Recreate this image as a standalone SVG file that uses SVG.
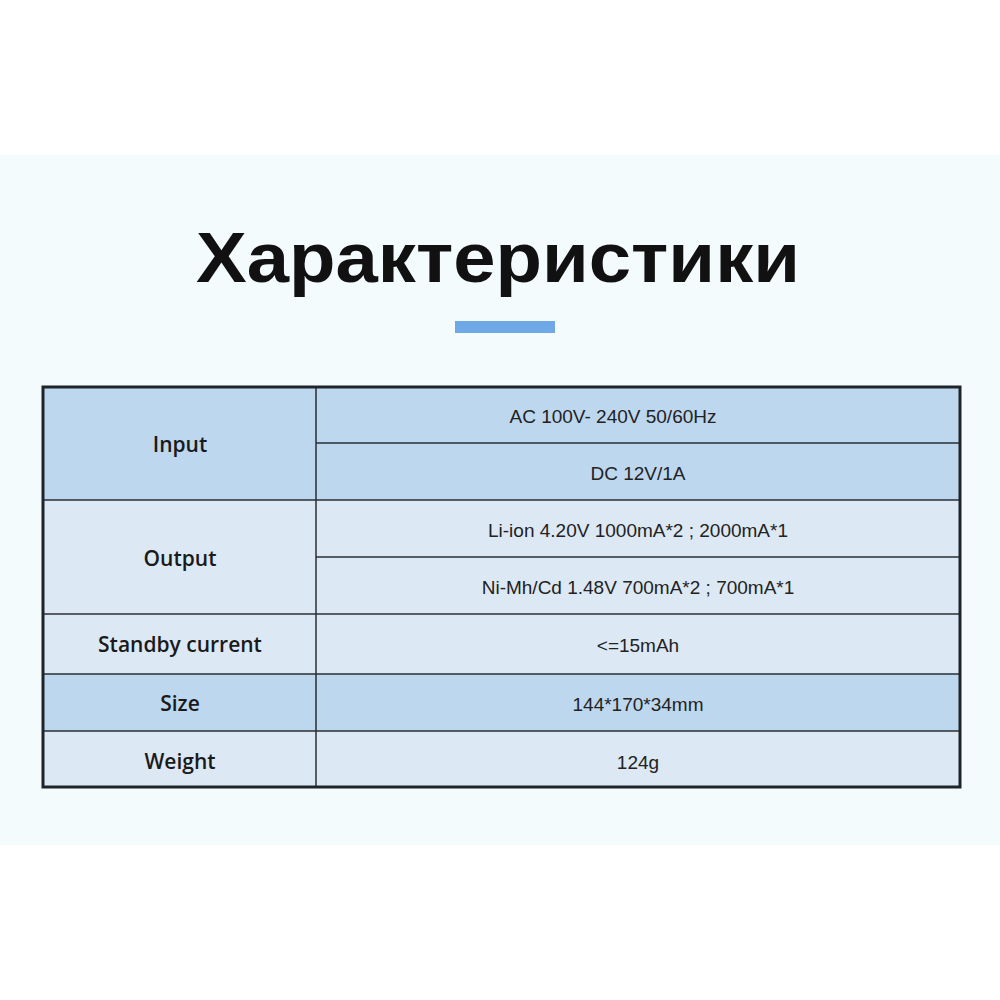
<svg xmlns="http://www.w3.org/2000/svg" width="1000" height="1000" viewBox="0 0 1000 1000">
<style>
.d{fill:#bdd7ee}.l{fill:#dde8f5}
.h{font-family:"Open Sans","Liberation Sans",sans-serif;font-size:21px;font-weight:600;fill:#1a1a1a;text-anchor:middle}
.v{font-family:"Liberation Sans",sans-serif;font-size:19px;fill:#222;text-anchor:middle}
.g{stroke:#2a2f36;stroke-width:1.5;fill:none}
</style>
<rect width="1000" height="1000" fill="#fff"/>
<rect x="0" y="155" width="1000" height="690" fill="#f3fbfd"/>
<text x="498" y="282" font-family="Liberation Sans, sans-serif" font-size="70" font-weight="bold" fill="#111" text-anchor="middle" textLength="604" lengthAdjust="spacingAndGlyphs">Характеристики</text>
<rect x="455" y="321" width="100" height="12" fill="#6fa8e6"/>
<g id="table">
<rect class="d" x="43" y="387" width="917" height="113"/>
<rect class="l" x="43" y="500" width="917" height="174"/>
<rect class="d" x="43" y="674" width="917" height="57"/>
<rect class="l" x="43" y="731" width="917" height="56"/>
<path class="g" d="M316 387V787M316 443H960M43 500H960M316 557H960M43 614H960M43 674H960M43 731H960"/>
<rect x="43" y="387" width="917" height="400" fill="none" stroke="#1f242b" stroke-width="3"/>
</g>
<g id="input"><text class="h" x="180" y="452">Input</text></g>
<g id="output"><text class="h" x="180" y="566">Output</text></g>
<g id="standby"><text class="h" x="180" y="652">Standby current</text></g>
<g id="size"><text class="h" x="180" y="711">Size</text></g>
<g id="weight"><text class="h" x="180" y="769">Weight</text></g>
<g id="values">
<text class="v" x="613" y="423">AC 100V- 240V 50/60Hz</text>
<text class="v" x="638" y="480">DC 12V/1A</text>
<text class="v" x="638" y="537">Li-ion 4.20V 1000mA*2 ; 2000mA*1</text>
<text class="v" x="638" y="594">Ni-Mh/Cd 1.48V 700mA*2 ; 700mA*1</text>
<text class="v" x="638" y="652">&lt;=15mAh</text>
<text class="v" x="638" y="711">144*170*34mm</text>
<text class="v" x="638" y="769">124g</text>
</g>
</svg>
